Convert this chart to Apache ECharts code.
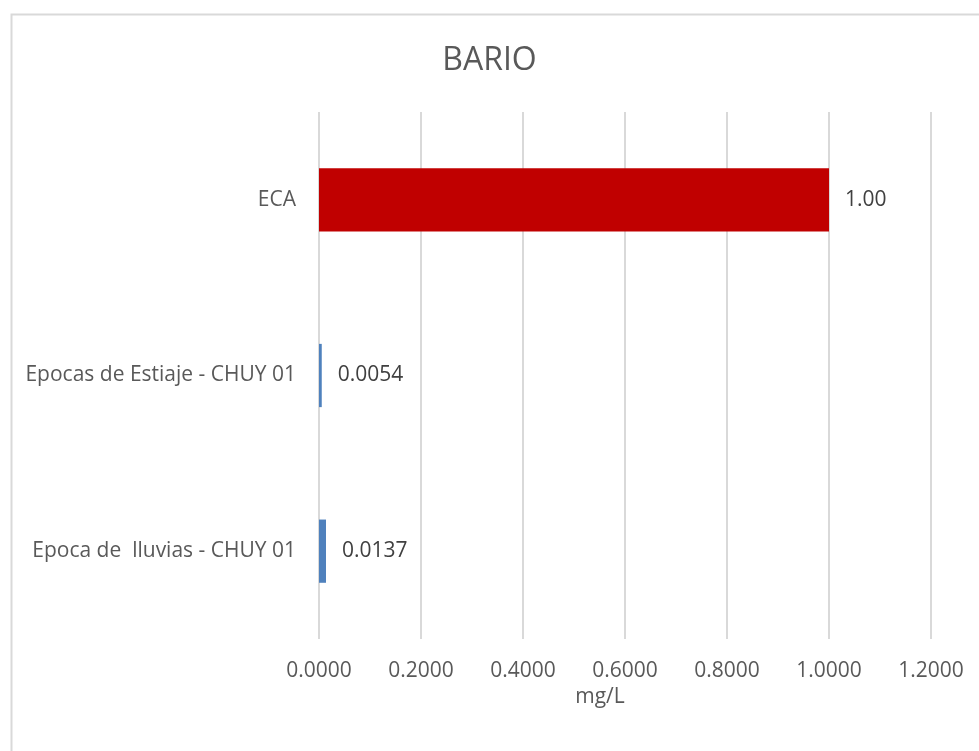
<!DOCTYPE html>
<html>
<head>
<meta charset="utf-8">
<script src="https://cdn.jsdelivr.net/npm/echarts@6/dist/echarts.min.js"></script>
<style>
html,body{margin:0;padding:0;background:#fff;}
#chart{width:979px;height:751px;}
</style>
</head>
<body>
<div id="chart"></div>
<script>
const titleText = 'BARIO';
const categories = ['Epoca de  lluvias - CHUY 01', 'Epocas de Estiaje - CHUY 01', 'ECA'];
const values = [0.0137, 0.0054, 1.00];
const labelDecimals = [4, 4, 2];
const barColors = ['#4F81BD', '#4F81BD', '#C00000'];
const axisMin = 0, axisMax = 1.2, axisStep = 0.2;
const axisName = 'mg/L';

const font = '"Open Sans", "Liberation Sans", sans-serif';
const chart = echarts.init(document.getElementById('chart'));
chart.setOption({
  backgroundColor: '#fff',
  animation: false,
  graphic: [{
    type: 'rect', left: 9, top: 12, silent: true,
    shape: { x: 0, y: 0, width: 1000, height: 800 },
    style: { fill: 'none', stroke: '#D9D9D9', lineWidth: 2 }
  }],
  title: {
    text: titleText, left: 'center', top: 40,
    textStyle: { fontFamily: font, fontSize: 32, fontWeight: 'normal', color: '#595959' }
  },
  grid: { left: 319, right: 48, top: 112, bottom: 112, containLabel: false },
  xAxis: {
    type: 'value', min: axisMin, max: axisMax, interval: axisStep,
    name: axisName, nameLocation: 'middle', nameGap: 29,
    nameTextStyle: { fontFamily: font, fontSize: 21, color: '#595959', padding: [0, 50, 0, 0] },
    axisLine: { show: false }, axisTick: { show: false },
    axisLabel: { margin: 22, fontFamily: font, fontSize: 21, color: '#595959',
      formatter: v => v.toFixed(4) },
    splitLine: { lineStyle: { color: '#D9D9D9', width: 2 } }
  },
  yAxis: {
    type: 'category', data: categories,
    axisLine: { show: false }, axisTick: { show: false },
    axisLabel: { margin: 23, fontFamily: font, fontSize: 21, color: '#595959' }
  },
  series: [{
    type: 'bar', barWidth: '36%',
    data: values.map((v, i) => ({ value: v, itemStyle: { color: barColors[i] } })),
    label: {
      show: true, position: 'right', distance: 16,
      fontFamily: font, fontSize: 21, color: '#404040',
      formatter: p => p.value.toFixed(labelDecimals[p.dataIndex])
    }
  }]
});
</script>
</body>
</html>
